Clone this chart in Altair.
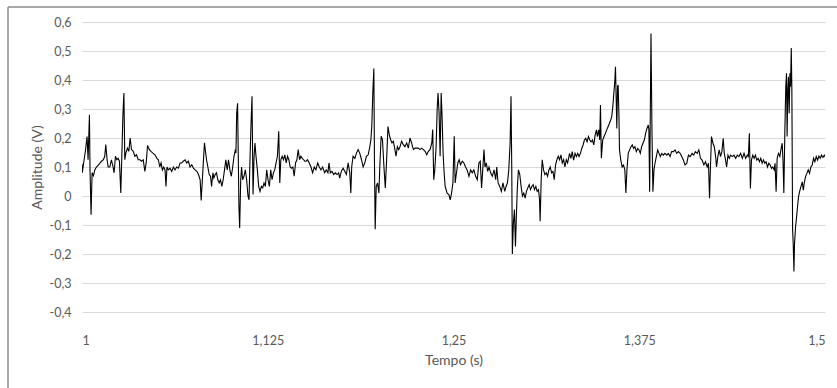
import altair as alt
import pandas as pd

# ---- data (time in s, amplitude in V) ----
t1 = [1.0000, 1.0002, 1.0014, 1.0023, 1.0034, 1.0041, 1.0050, 1.0054, 1.0061, 1.0068,
      1.0077, 1.0086, 1.0097, 1.0113, 1.0131, 1.0144, 1.0153, 1.0160, 1.0169, 1.0176,
      1.0187, 1.0198, 1.0209, 1.0216, 1.0225, 1.0234, 1.0243, 1.0252, 1.0261, 1.0268,
      1.0275, 1.0282, 1.0288, 1.0295, 1.0306, 1.0315, 1.0324, 1.0333, 1.0345, 1.0356,
      1.0367, 1.0378, 1.0390, 1.0401, 1.0412, 1.0423, 1.0432, 1.0441, 1.0453, 1.0464,
      1.0477, 1.0491, 1.0504, 1.0514, 1.0523, 1.0532, 1.0541, 1.0550, 1.0559, 1.0565,
      1.0572, 1.0581, 1.0592, 1.0604, 1.0615, 1.0626, 1.0637, 1.0649, 1.0660, 1.0671,
      1.0682, 1.0694, 1.0705, 1.0716, 1.0727, 1.0739, 1.0750, 1.0761, 1.0773, 1.0784,
      1.0795]
v1 = [0.11, 0.08, 0.125, 0.155, 0.205, 0.125, 0.28, 0.09, -0.065, 0.08,
      0.07, 0.09, 0.10, 0.108, 0.12, 0.125, 0.137, 0.177, 0.125, 0.10,
      0.10, 0.125, 0.10, 0.08, 0.137, 0.125, 0.13, 0.12, 0.01, 0.137,
      0.275, 0.355, 0.125, 0.148, 0.165, 0.154, 0.20, 0.16, 0.154, 0.137,
      0.142, 0.125, 0.125, 0.12, 0.125, 0.085, 0.114, 0.174, 0.16, 0.154,
      0.148, 0.142, 0.13, 0.125, 0.10, 0.114, 0.09, 0.10, 0.09, 0.033,
      0.10, 0.09, 0.096, 0.085, 0.10, 0.09, 0.10, 0.096, 0.114, 0.114,
      0.12, 0.125, 0.114, 0.12, 0.10, 0.108, 0.096, 0.09, 0.085, 0.074,
      0.056]

t2 = [1.0802, 1.0824, 1.0838, 1.0847, 1.0856, 1.0865, 1.0872, 1.0881, 1.0887, 1.0896,
      1.0905, 1.0914, 1.0923, 1.0932, 1.0941, 1.0950, 1.0959, 1.0968, 1.0977, 1.0986,
      1.0995, 1.1005, 1.1014, 1.1023, 1.1032, 1.1036, 1.1041, 1.1047, 1.1052, 1.1056,
      1.1061, 1.1068, 1.1074, 1.1081, 1.1090, 1.1099, 1.1108, 1.1117, 1.1124, 1.1131,
      1.1137, 1.1144, 1.1151, 1.1158, 1.1164, 1.1171, 1.1180, 1.1189, 1.1198, 1.1207,
      1.1216, 1.1225, 1.1234, 1.1243, 1.1252, 1.1261, 1.1270, 1.1279, 1.1288, 1.1297,
      1.1306, 1.1315, 1.1324, 1.1331, 1.1338, 1.1347, 1.1356, 1.1365, 1.1374, 1.1383,
      1.1392, 1.1401, 1.1410, 1.1419, 1.1428, 1.1437, 1.1446, 1.1455, 1.1464, 1.1473,
      1.1482, 1.1491, 1.1500, 1.1509, 1.1518, 1.1529, 1.1541, 1.1552, 1.1563, 1.1574,
      1.1586, 1.1597, 1.1608, 1.1619]
v2 = [-0.015, 0.183, 0.125, 0.10, 0.074, 0.068, 0.033, 0.08, 0.062, 0.074,
      0.08, 0.056, 0.045, 0.056, 0.033, 0.056, 0.09, 0.125, 0.09, 0.125,
      0.09, 0.068, 0.10, 0.137, 0.16, 0.148, 0.286, 0.32, 0.125, -0.036,
      -0.11, 0.056, 0.10, 0.056, 0.068, 0.09, 0.056, 0.0, -0.013, 0.137,
      0.24, 0.344, 0.005, 0.137, 0.183, 0.137, 0.09, 0.033, 0.016, 0.033,
      0.028, 0.045, 0.033, 0.09, 0.056, 0.033, 0.09, 0.056, 0.08, 0.09,
      0.114, 0.137, 0.223, 0.045, 0.125, 0.137, 0.125, 0.142, 0.114, 0.137,
      0.125, 0.10, 0.096, 0.10, 0.068, 0.114, 0.125, 0.16, 0.125, 0.137,
      0.13, 0.125, 0.12, 0.12, 0.125, 0.114, 0.10, 0.08, 0.10, 0.09,
      0.114, 0.10, 0.09, 0.10]

t3 = [1.1633, 1.1644, 1.1655, 1.1662, 1.1671, 1.1682, 1.1694, 1.1705, 1.1716, 1.1727,
      1.1734, 1.1745, 1.1757, 1.1768, 1.1779, 1.1791, 1.1802, 1.1809, 1.1815, 1.1824,
      1.1836, 1.1847, 1.1858, 1.1869, 1.1881, 1.1892, 1.1903, 1.1914, 1.1926, 1.1937,
      1.1944, 1.1950, 1.1957, 1.1964, 1.1968, 1.1973, 1.1980, 1.1989, 1.1998, 1.2004,
      1.2013, 1.2022, 1.2032, 1.2041, 1.2050, 1.2059, 1.2068, 1.2077, 1.2086, 1.2095,
      1.2104, 1.2113, 1.2122, 1.2131, 1.2140, 1.2151, 1.2162, 1.2173, 1.2185, 1.2196,
      1.2207, 1.2218, 1.2230, 1.2241, 1.2252, 1.2263, 1.2275, 1.2286, 1.2297, 1.2309,
      1.2320, 1.2331, 1.2342, 1.2354, 1.2360, 1.2367, 1.2374, 1.2383, 1.2390, 1.2396,
      1.2403, 1.2410, 1.2417, 1.2423, 1.2430, 1.2437, 1.2444]
v3 = [0.08, 0.09, 0.08, 0.114, 0.08, 0.085, 0.074, 0.08, 0.074, 0.08,
      0.062, 0.085, 0.096, 0.085, 0.074, 0.114, 0.08, 0.01, 0.10, 0.137,
      0.13, 0.148, 0.16, 0.148, 0.125, 0.10, 0.114, 0.137, 0.142, 0.17,
      0.194, 0.24, 0.355, 0.44, 0.125, -0.115, 0.033, 0.045, 0.01, 0.10,
      0.206, 0.194, 0.10, 0.028, 0.125, 0.24, 0.211, 0.194, 0.183, 0.189,
      0.165, 0.137, 0.17, 0.16, 0.17, 0.189, 0.177, 0.17, 0.183, 0.165,
      0.20, 0.183, 0.16, 0.165, 0.165, 0.165, 0.16, 0.165, 0.16, 0.154,
      0.142, 0.154, 0.16, 0.183, 0.229, 0.056, 0.09, 0.17, 0.298, 0.355,
      0.286, 0.137, 0.355, 0.275, 0.148, 0.08, 0.033]

t4 = [1.2457, 1.2469, 1.2478, 1.2487, 1.2496, 1.2505, 1.2511, 1.2520, 1.2529, 1.2538,
      1.2547, 1.2559, 1.2570, 1.2581, 1.2592, 1.2604, 1.2615, 1.2626, 1.2637, 1.2649,
      1.2660, 1.2671, 1.2680, 1.2689, 1.2698, 1.2705, 1.2712, 1.2721, 1.2730, 1.2739,
      1.2750, 1.2761, 1.2773, 1.2784, 1.2791, 1.2800, 1.2811, 1.2822, 1.2833, 1.2845,
      1.2854, 1.2863, 1.2872, 1.2881, 1.2887, 1.2892, 1.2896, 1.2903, 1.2910, 1.2917,
      1.2923, 1.2930, 1.2937, 1.2946, 1.2955, 1.2964, 1.2973, 1.2982, 1.2991, 1.3000,
      1.3009, 1.3018, 1.3027, 1.3036, 1.3045, 1.3054, 1.3063, 1.3072, 1.3079, 1.3083,
      1.3090, 1.3097, 1.3106, 1.3115, 1.3124, 1.3133, 1.3142, 1.3151, 1.3160, 1.3169,
      1.3178, 1.3187, 1.3196, 1.3205, 1.3214, 1.3223, 1.3232, 1.3241, 1.3250, 1.3259,
      1.3268]
v4 = [0.01, 0.005, -0.013, 0.01, 0.045, 0.206, 0.045, 0.08, 0.114, 0.125,
      0.108, 0.12, 0.114, 0.10, 0.09, 0.068, 0.09, 0.08, 0.09, 0.068,
      0.056, 0.114, 0.12, 0.028, 0.10, 0.16, 0.10, 0.114, 0.085, 0.10,
      0.08, 0.068, 0.09, 0.056, 0.10, 0.045, 0.033, 0.016, 0.045, 0.016,
      0.033, 0.045, 0.09, 0.183, 0.344, 0.10, -0.20, -0.093, -0.047, -0.174,
      -0.07, 0.033, 0.09, 0.074, 0.033, 0.0, 0.01, -0.007, 0.016, 0.028,
      0.039, 0.022, 0.033, 0.039, 0.022, 0.033, 0.016, 0.022, -0.013, -0.087,
      0.056, 0.125, 0.09, 0.074, 0.08, 0.068, 0.09, 0.10, 0.08, 0.085,
      0.056, 0.108, 0.125, 0.137, 0.125, 0.142, 0.114, 0.125, 0.10, 0.125,
      0.114]

t5 = [1.3281, 1.3290, 1.3299, 1.3308, 1.3318, 1.3327, 1.3336, 1.3345, 1.3354, 1.3363,
      1.3372, 1.3381, 1.3390, 1.3399, 1.3408, 1.3417, 1.3426, 1.3435, 1.3444, 1.3453,
      1.3462, 1.3468, 1.3477, 1.3484, 1.3489, 1.3495, 1.3504, 1.3513, 1.3522, 1.3531,
      1.3540, 1.3549, 1.3558, 1.3565, 1.3572, 1.3579, 1.3586, 1.3590, 1.3595, 1.3599,
      1.3604, 1.3608, 1.3613, 1.3617, 1.3626, 1.3635, 1.3644, 1.3653, 1.3660, 1.3667,
      1.3676, 1.3685, 1.3694, 1.3703, 1.3712, 1.3721, 1.3730, 1.3739, 1.3748, 1.3757,
      1.3766, 1.3775, 1.3784, 1.3793, 1.3802, 1.3811, 1.3815, 1.3820, 1.3824, 1.3829,
      1.3836, 1.3842, 1.3849, 1.3856, 1.3865, 1.3874, 1.3883, 1.3892, 1.3901, 1.3912,
      1.3923, 1.3935, 1.3946, 1.3957, 1.3968, 1.3980, 1.3991, 1.4002, 1.4013, 1.4025,
      1.4036, 1.4047, 1.4058, 1.4070, 1.4081, 1.4092]
v5 = [0.147, 0.13, 0.153, 0.124, 0.147, 0.136, 0.147, 0.136, 0.147, 0.164,
      0.176, 0.193, 0.199, 0.187, 0.205, 0.193, 0.187, 0.193, 0.176, 0.21,
      0.228, 0.205, 0.228, 0.193, 0.314, 0.13, 0.193, 0.205, 0.216, 0.228,
      0.239, 0.25, 0.262, 0.274, 0.308, 0.354, 0.40, 0.446, 0.331, 0.233,
      0.377, 0.383, 0.285, 0.159, 0.124, 0.10, 0.107, 0.09, 0.01, 0.09,
      0.147, 0.159, 0.17, 0.176, 0.164, 0.17, 0.153, 0.164, 0.159, 0.147,
      0.17, 0.182, 0.193, 0.216, 0.233, 0.245, 0.228, 0.015, 0.262, 0.56,
      0.205, 0.015, 0.09, 0.113, 0.136, 0.159, 0.147, 0.136, 0.147, 0.141,
      0.147, 0.141, 0.147, 0.136, 0.153, 0.153, 0.159, 0.147, 0.153, 0.147,
      0.136, 0.124, 0.107, 0.113, 0.141, 0.136]

t6 = [1.4106, 1.4117, 1.4128, 1.4140, 1.4151, 1.4162, 1.4173, 1.4185, 1.4196, 1.4207,
      1.4216, 1.4223, 1.4230, 1.4236, 1.4246, 1.4255, 1.4264, 1.4270, 1.4279, 1.4288,
      1.4297, 1.4306, 1.4315, 1.4322, 1.4329, 1.4338, 1.4347, 1.4356, 1.4365, 1.4376,
      1.4387, 1.4399, 1.4410, 1.4421, 1.4432, 1.4444, 1.4455, 1.4466, 1.4477, 1.4484,
      1.4491, 1.4498, 1.4505, 1.4514, 1.4523, 1.4532, 1.4541, 1.4550, 1.4559, 1.4568,
      1.4577, 1.4586, 1.4595, 1.4604, 1.4613, 1.4622, 1.4631, 1.4640, 1.4649, 1.4658,
      1.4664, 1.4671, 1.4678, 1.4687, 1.4696, 1.4705, 1.4712, 1.4718, 1.4723, 1.4730,
      1.4736, 1.4741, 1.4745, 1.4750, 1.4754, 1.4759, 1.4764, 1.4768, 1.4773, 1.4777,
      1.4782, 1.4786, 1.4791, 1.4795, 1.4802, 1.4809, 1.4815, 1.4822, 1.4829, 1.4838,
      1.4847, 1.4854, 1.4860, 1.4869, 1.4878, 1.4887, 1.4896, 1.4905, 1.4914, 1.4923,
      1.4932, 1.4941, 1.4950, 1.4959, 1.4968, 1.4977, 1.4986, 1.4995, 1.5000]
v6 = [0.147, 0.141, 0.153, 0.147, 0.159, 0.13, 0.124, 0.107, 0.118, 0.10,
      0.113, -0.008, 0.113, 0.205, 0.182, 0.17, 0.136, 0.10, 0.136, 0.159,
      0.136, 0.153, 0.199, 0.147, 0.13, 0.10, 0.141, 0.13, 0.141, 0.136,
      0.141, 0.13, 0.141, 0.136, 0.147, 0.13, 0.147, 0.13, 0.141, 0.136,
      0.216, 0.026, 0.124, 0.141, 0.13, 0.141, 0.124, 0.13, 0.118, 0.13,
      0.113, 0.124, 0.113, 0.118, 0.10, 0.113, 0.107, 0.095, 0.10, 0.09,
      0.113, 0.015, 0.13, 0.147, 0.136, 0.164, 0.182, 0.113, 0.01, 0.228,
      0.377, 0.423, 0.205, 0.366, 0.411, 0.285, 0.423, 0.377, 0.51, 0.366,
      -0.117, -0.163, -0.26, -0.163, -0.106, -0.071, -0.037, -0.002, 0.015, 0.032,
      0.049, 0.02, 0.044, 0.067, 0.078, 0.09, 0.078, 0.10, 0.107, 0.13,
      0.118, 0.136, 0.124, 0.138, 0.13, 0.141, 0.133, 0.141, 0.135]

x_ticks = [1, 1.125, 1.25, 1.375, 1.5]
y_ticks = [-0.4, -0.3, -0.2, -0.1, 0, 0.1, 0.2, 0.3, 0.4, 0.5, 0.6]

times = t1 + t2 + t3 + t4 + t5 + t6
amps = v1 + v2 + v3 + v4 + v5 + v6
df = pd.DataFrame({"t": times, "v": amps})

FONT = "Lato"
TXT = "#595959"

line = alt.Chart(df).mark_line(color="#000000", strokeWidth=1.1, clip=True).encode(
    x=alt.X("t:Q",
            scale=alt.Scale(domain=[1, 1.5], nice=False, zero=False),
            axis=alt.Axis(values=x_ticks, grid=False, domain=False, ticks=False,
                          labelExpr="replace(toString(datum.value), '.', ',')",
                          labelPadding=22, labelFontSize=12.5, labelColor=TXT,
                          labelFont=FONT, title="Tempo (s)", titleFont=FONT,
                          titleFontSize=14, titleFontWeight="normal",
                          titleColor=TXT, titlePadding=7)),
    y=alt.Y("v:Q",
            scale=alt.Scale(domain=[-0.4, 0.6], nice=False, zero=False),
            axis=alt.Axis(values=y_ticks, grid=True, gridColor="#d9d9d9",
                          gridWidth=1, domain=False, ticks=False,
                          labelExpr="replace(toString(datum.value), '.', ',')",
                          labelPadding=11, labelFontSize=12.5, labelColor=TXT,
                          labelFont=FONT, title="Amplitude (V)", titleFont=FONT,
                          titleFontSize=14, titleFontWeight="normal",
                          titleColor=TXT, titlePadding=5)),
)

frame_data = pd.DataFrame({"k": [0]})
top_border = alt.Chart(frame_data).mark_rule(color="#8c8c8c", strokeWidth=1.5).encode(
    x=alt.value(-74), x2=alt.value(760), y=alt.value(-15))
left_border = alt.Chart(frame_data).mark_rule(color="#8c8c8c", strokeWidth=1.5).encode(
    x=alt.value(-74), y=alt.value(-15), y2=alt.value(370))

chart = alt.layer(line, top_border, left_border).properties(
    width=743, height=290,
    autosize=alt.AutoSizeParams(type="none"),
    padding={"left": 82, "top": 22, "right": 12, "bottom": 76},
    background="white",
).configure_view(stroke=None)

chart.save("out.html", embed_options={"renderer": "svg", "actions": False})
